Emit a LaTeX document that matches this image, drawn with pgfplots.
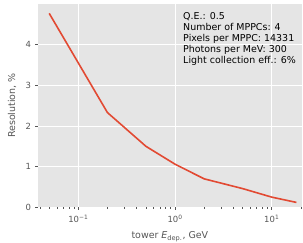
\documentclass[border=0pt]{standalone}
\usepackage{fontspec}
\setmainfont{DejaVu Sans}
\usepackage{pgfplots}
\pgfplotsset{compat=1.18}
\definecolor{bg}{HTML}{E5E5E5}
\definecolor{tk}{HTML}{555555}
\definecolor{ln}{HTML}{E24A33}
\begin{document}
\begin{tikzpicture}
\path[use as bounding box] (-38bp,-35.7bp) rectangle (265bp,207.3bp);
\begin{axis}[
  at={(0,0)}, anchor=south west,
  xmode=log, scale only axis, width=263.7bp, height=203.3bp,
  xmin=0.0383, xmax=20.4, ymin=0, ymax=5,
  axis background/.style={fill=bg},
  axis line style={draw=none},
  grid=major, major grid style={white, line width=0.9bp},
  xtick={0.1,1,10},
  xticklabels={10\textsuperscript{−1},10\textsuperscript{0},10\textsuperscript{1}},
  minor xtick={0.04,0.05,0.06,0.07,0.08,0.09,0.2,0.3,0.4,0.5,0.6,0.7,0.8,0.9,2,3,4,5,6,7,8,9,20},
  ytick={0,1,2,3,4},
  tick align=outside, tick pos=left,
  major tick length=2.5bp, minor tick length=1.5bp,
  every tick/.style={tk, line width=0.6bp},
  ticklabel style={font=\fontsize{8.5}{10}\selectfont, text=tk},
  xticklabel style={yshift=-2bp},
  yticklabel style={xshift=-1bp},
  /pgf/number format/assume math mode=true,
  xlabel={tower \textit{E}\textsubscript{dep.}, GeV},
  ylabel={Resolution, \%},
  label style={font=\fontsize{9.5}{11}\selectfont, text=tk},
  xlabel style={at={(axis description cs:0.5,0)}, anchor=base, yshift=-31.5bp},
  ylabel style={at={(axis description cs:-0.0986,0.5)}, anchor=center},
  clip=false,
]
\addplot[ln, line width=1.6bp, mark=none] coordinates {
  (0.05,4.77) (0.2,2.33) (0.5,1.50) (1,1.06) (2,0.70) (5,0.46) (10,0.25) (18,0.12)
};
\node[anchor=base west, inner sep=0, font=\fontsize{9.5}{11}\selectfont] at (axis cs:1.21,4.63) {Q.E.: 0.5};
\node[anchor=base west, inner sep=0, font=\fontsize{9.5}{11}\selectfont] at (axis cs:1.21,4.357) {Number of MPPCs: 4};
\node[anchor=base west, inner sep=0, font=\fontsize{9.5}{11}\selectfont] at (axis cs:1.21,4.084) {Pixels per MPPC: 14331};
\node[anchor=base west, inner sep=0, font=\fontsize{9.5}{11}\selectfont] at (axis cs:1.21,3.811) {Photons per MeV: 300};
\node[anchor=base west, inner sep=0, font=\fontsize{9.5}{11}\selectfont] at (axis cs:1.21,3.538) {Light collection eff.: 6\%};
\end{axis}
\end{tikzpicture}
\end{document}
